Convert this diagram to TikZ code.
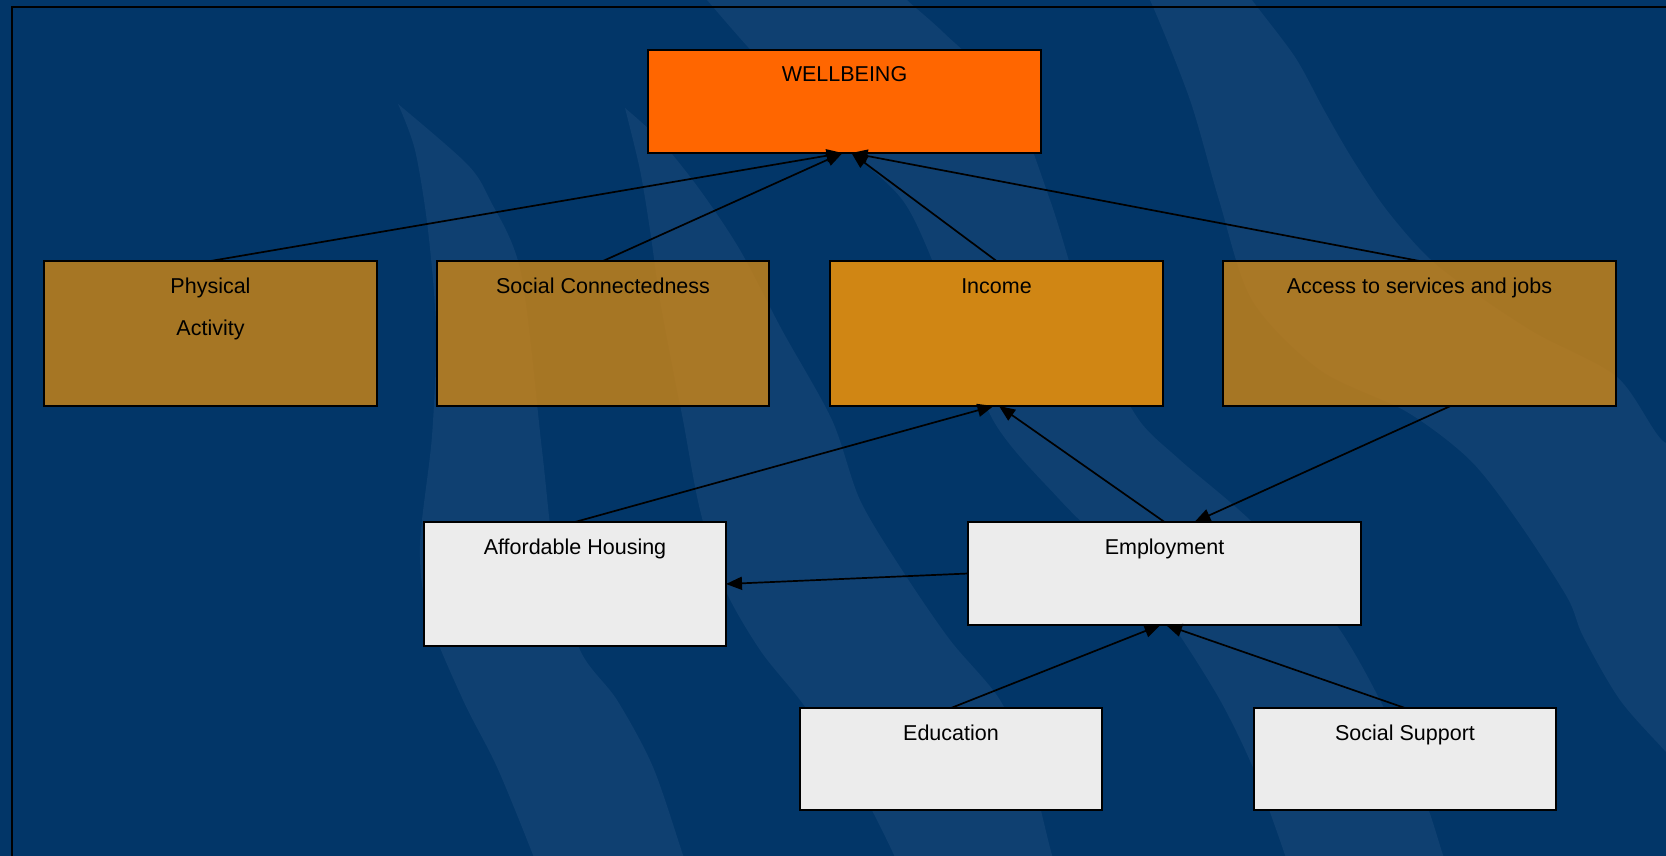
\documentclass[tikz,border=0pt]{standalone}
\usepackage{fontspec}
\setmainfont{Liberation Sans}
\usetikzlibrary{arrows.meta}
\definecolor{bgblue}{RGB}{2,54,104}
\definecolor{bandblue}{RGB}{15,64,113}
\definecolor{boxorange}{RGB}{208,134,20}
\definecolor{wellorange}{RGB}{255,102,0}
\definecolor{boxwhite}{RGB}{236,236,236}
\begin{document}
\begin{tikzpicture}[x=1pt,y=-1pt,
  box/.style={draw=black, line width=1.8pt, anchor=north west, inner sep=0pt, outer sep=0pt},
  obox/.style={box, fill=boxorange, fill opacity=0.8},
  ibox/.style={box, fill=boxorange},
  wellbox/.style={box, fill=wellorange},
  wbox/.style={box, fill=boxwhite},
  txt/.style={anchor=base, font=\fontsize{21.5}{26}\selectfont, text=black, inner sep=0pt},
  conn/.style={draw=black, line width=1.7pt, -{Triangle[length=16pt,width=13pt]}},
  band/.style={fill=bandblue}
]
\useasboundingbox (0,0) rectangle (1666,855);
\begin{scope}
\clip (-8,-8) rectangle (1674,863);
\fill[bgblue] (-10,-10) rectangle (1676,865);
% band 1
\fill[band] plot[smooth] coordinates {(398,104) (415,150) (428,230) (436,330) (432,436) (420,545) (428,615) (463,700) (497,767) (533,855) (545,890)}
  -- plot[smooth] coordinates {(695,890) (683,855) (653,767) (617,700) (580,650) (555,560) (542,450) (521,273) (490,200) (467,164) (398,104)} -- cycle;
% band 2
\fill[band] plot[smooth] coordinates {(625,108) (640,170) (650,230) (660,300) (675,380) (683,420) (700,510) (724,587) (760,650) (800,700) (850,770) (894,855) (905,890)}
  -- plot[smooth] coordinates {(1065,890) (1052,855) (1030,770) (1000,700) (950,640) (902,570) (860,500) (832,420) (782,330) (740,250) (700,190) (660,140) (625,108)} -- cycle;
% band 3
\fill[band] plot[smooth] coordinates {(690,-20) (707,0) (760,60) (850,150) (906,205) (948,300) (993,420) (1060,500) (1130,570) (1174,627) (1220,700) (1254,770) (1285,855) (1295,890)}
  -- plot[smooth] coordinates {(1455,890) (1443,855) (1425,800) (1390,720) (1340,630) (1260,530) (1180,460) (1139,420) (1101,350) (1075,280) (1050,200) (1010,100) (944,33) (907,0) (890,-20)} -- cycle;
% band 4
\fill[band] plot[smooth] coordinates {(1135,-20) (1150,0) (1190,100) (1219,200) (1252,300) (1320,370) (1407,412) (1470,460) (1517,520) (1567,597) (1583,636) (1620,700) (1666,752) (1700,790)}
  -- plot[smooth] coordinates {(1700,410) (1666,443) (1617,377) (1530,330) (1439,267) (1389,213) (1353,160) (1324,110) (1295,57) (1252,0) (1240,-20)} -- cycle;
\draw[line width=2.2pt] (12,7) rectangle (1720,920);
\end{scope}

% boxes
\node[wellbox, minimum width=393pt, minimum height=103pt] (wb) at (648,50) {};
\node[obox, minimum width=333pt, minimum height=145pt] (pa) at (44,261) {};
\node[obox, minimum width=332pt, minimum height=145pt] (sc) at (437,261) {};
\node[ibox, minimum width=333pt, minimum height=145pt] (inc) at (830,261) {};
\node[obox, minimum width=393pt, minimum height=145pt] (acc) at (1223,261) {};
\node[wbox, minimum width=302pt, minimum height=124pt] (aff) at (424,522) {};
\node[wbox, minimum width=393pt, minimum height=103pt] (emp) at (968,522) {};
\node[wbox, minimum width=302pt, minimum height=102pt] (edu) at (800,708) {};
\node[wbox, minimum width=302pt, minimum height=102pt] (ss) at (1254,708) {};

% texts
\node[txt] (twb) at ([yshift=-31pt]wb.north) {WELLBEING};
\node[txt] (tpa1) at ([yshift=-32pt]pa.north) {Physical};
\node[txt] (tpa2) at ([yshift=-74pt]pa.north) {Activity};
\node[txt] (tsc) at ([yshift=-32pt]sc.north) {Social Connectedness};
\node[txt] (tinc) at ([yshift=-32pt]inc.north) {Income};
\node[txt] (tacc) at ([yshift=-32pt]acc.north) {Access to services and jobs};
\node[txt] (taff) at ([yshift=-32pt]aff.north) {Affordable Housing};
\node[txt] (temp) at ([yshift=-32pt]emp.north) {Employment};
\node[txt] (tedu) at ([yshift=-32pt]edu.north) {Education};
\node[txt] (tss) at ([yshift=-32pt]ss.north) {Social Support};

% connectors
\draw[conn] (pa.north) -- ([xshift=-2pt]wb.south);
\draw[conn] (sc.north) -- ([xshift=-2pt]wb.south);
\draw[conn] (inc.north) -- ([xshift=7pt]wb.south);
\draw[conn] (acc.north) -- ([xshift=7pt]wb.south);
\draw[conn] (aff.north) -- ([xshift=-3pt]inc.south);
\draw[conn] (emp.north) -- ([xshift=2.5pt]inc.south);
\draw[conn] ([xshift=31pt]acc.south) -- ([xshift=30pt]emp.north);
\draw[conn] (emp.west) -- (aff.east);
\draw[conn] (edu.north) -- ([xshift=-4pt]emp.south);
\draw[conn] (ss.north) -- ([xshift=1.5pt]emp.south);
\end{tikzpicture}
\end{document}
